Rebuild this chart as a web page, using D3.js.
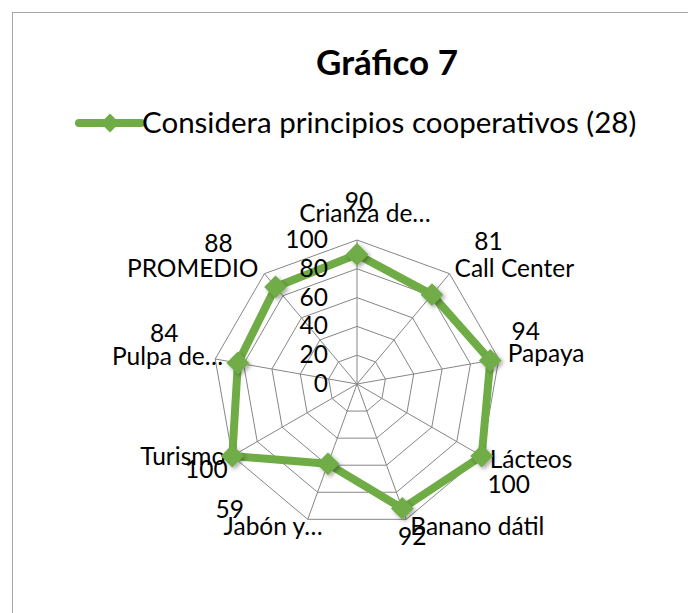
<!DOCTYPE html>
<html>
<head>
<meta charset="utf-8">
<script src="https://cdn.jsdelivr.net/npm/d3@7"></script>
<style>
  body { margin: 0; background: #fff; }
  text { font-family: Lato, "Open Sans", sans-serif; fill: #000; }
</style>
</head>
<body>
<svg id="chart" width="688" height="613"></svg>
<script>
// chart data
const chartTitle = "Gráfico 7";
const seriesName = "Considera principios cooperativos (28)";
const categories = ["Crianza de…", "Call Center", "Papaya", "Lácteos", "Banano dátil",
                    "Jabón y…", "Turismo", "Pulpa de…", "PROMEDIO"];
const values = [90, 81, 94, 100, 92, 59, 100, 84, 88];
const tickValues = [0, 20, 40, 60, 80, 100];

// label nudges (relative to each spoke end), Excel puts them a bit unevenly
const catNudge = [[8, -18, "middle"], [5, 3, "start"], [9, 3, "start"], [8, 12, "start"],
                  [4, 16, "start"], [15, 16, "end"], [-7, 9, "end"], [8, 6, "end"], [-6, 3, "end"]];
const valNudge = [[2, -30], [39, -24], [27, -19], [27, 37], [6, 26],
                  [-78, -1], [-26, 22], [-51, -17], [-46, -22]];

const green = "#6fac46";
const labelSize = "24.5px";
const svg = d3.select("#chart");

// outer chart border (runs off the right and bottom)
svg.append("rect")
  .attr("x", 12.5).attr("y", 12.5)
  .attr("width", 700).attr("height", 620)
  .attr("fill", "none").attr("stroke", "#a6a6a6");

// title + legend
svg.append("text")
  .attr("x", 387).attr("y", 75)
  .attr("text-anchor", "middle")
  .style("font-weight", "bold").style("font-size", "35px")
  .text(chartTitle);

const legend = svg.append("g").attr("transform", "translate(79,123)");
legend.append("line")
  .attr("x1", 0).attr("x2", 62)
  .attr("stroke", green).attr("stroke-width", 8).attr("stroke-linecap", "round");
legend.append("path")
  .attr("d", d3.symbol(d3.symbolDiamond2, 230)())
  .attr("transform", "translate(31,0)")
  .attr("fill", green);
legend.append("text")
  .attr("x", 63).attr("y", 10)
  .style("font-size", "29.5px")
  .text(seriesName);

// radar
const cx = 357, cy = 384, R = 144;
const n = categories.length;
const r = d3.scaleLinear().domain([0, 100]).range([0, R]);
const ang = d3.scaleLinear().domain([0, n]).range([0, 2 * Math.PI]);
const pt = (i, v) => [cx + r(v) * Math.sin(ang(i)), cy - r(v) * Math.cos(ang(i))];

// drop shadow for markers
const defs = svg.append("defs");
const f = defs.append("filter").attr("id", "shadow")
  .attr("x", "-50%").attr("y", "-50%").attr("width", "200%").attr("height", "200%");
f.append("feDropShadow").attr("dx", 2).attr("dy", 2).attr("stdDeviation", 2)
  .attr("flood-color", "#000").attr("flood-opacity", 0.35);

const grid = svg.append("g");
// rings
tickValues.slice(1).forEach((t) => {
  grid.append("path")
    .attr("d", d3.line()(d3.range(n).map((i) => pt(i, t))) + "Z")
    .attr("fill", "none").attr("stroke", "#868686").attr("stroke-width", 1);
});
// spokes
d3.range(n).forEach((i) => {
  const p = pt(i, 100);
  grid.append("line")
    .attr("x1", cx).attr("y1", cy).attr("x2", p[0]).attr("y2", p[1])
    .attr("stroke", "#868686").attr("stroke-width", 1);
});

// category labels
svg.append("g").selectAll("text")
  .data(categories)
  .join("text")
  .attr("x", (d, i) => pt(i, 100)[0] + catNudge[i][0])
  .attr("y", (d, i) => pt(i, 100)[1] + catNudge[i][1])
  .attr("text-anchor", (d, i) => catNudge[i][2])
  .style("font-size", labelSize)
  .text((d) => d);

// series line
const radarLine = d3.lineRadial()
  .angle((d, i) => ang(i))
  .radius((d) => r(d))
  .curve(d3.curveLinearClosed);

const series = svg.append("g").attr("transform", "translate(" + cx + "," + cy + ")");
series.append("path")
  .datum(values)
  .attr("d", radarLine)
  .attr("fill", "none")
  .attr("stroke", green)
  .attr("stroke-width", 8)
  .attr("stroke-linejoin", "round");

svg.append("g").selectAll("path")
  .data(values)
  .join("path")
  .attr("d", d3.symbol(d3.symbolDiamond2, 330)())
  .attr("transform", (d, i) => "translate(" + pt(i, d)[0] + "," + pt(i, d)[1] + ")")
  .attr("fill", green)
  .attr("filter", "url(#shadow)");

// axis tick labels on the top spoke
svg.append("g").selectAll("text")
  .data(tickValues)
  .join("text")
  .attr("x", cx - 29)
  .attr("y", (d) => cy - r(d) + 8)
  .attr("text-anchor", "end")
  .style("font-size", labelSize)
  .text((d) => d);

// value labels
svg.append("g").selectAll("text")
  .data(values)
  .join("text")
  .attr("x", (d, i) => pt(i, 100)[0] + valNudge[i][0])
  .attr("y", (d, i) => pt(i, 100)[1] + valNudge[i][1])
  .attr("text-anchor", "middle")
  .style("font-size", labelSize)
  .text((d) => d);
</script>
</body>
</html>
